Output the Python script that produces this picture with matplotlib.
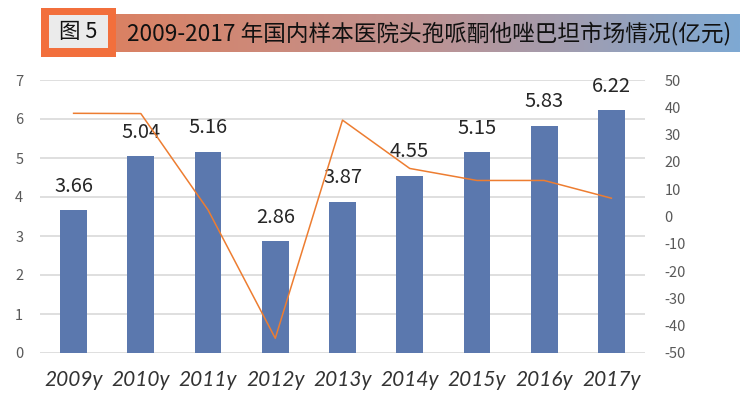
import numpy as np
import matplotlib.pyplot as plt
from matplotlib.colors import LinearSegmentedColormap
from matplotlib.patches import Rectangle

plt.rcParams['font.family'] = ['Noto Sans CJK SC', 'DejaVu Sans']
plt.rcParams['axes.unicode_minus'] = False

years = ['2009y', '2010y', '2011y', '2012y', '2013y', '2014y', '2015y', '2016y', '2017y']
sales = [3.66, 5.04, 5.16, 2.86, 3.87, 4.55, 5.15, 5.83, 6.22]
growth = [37.8, 37.7, 2.4, -44.6, 35.3, 17.6, 13.2, 13.2, 6.7]
title = '2009-2017 年国内样本医院头孢哌酮他唑巴坦市场情况(亿元)'

fig = plt.figure(figsize=(7.4, 3.99), dpi=100)

# header: gradient band + figure number box
gax = fig.add_axes([116 / 740, 1 - 52 / 399, 1 - 116 / 740, 38 / 399])
cmap = LinearSegmentedColormap.from_list('hdr', ['#DA8163', '#BE9393', '#7EA9D3'])
gax.imshow(np.linspace(0, 1, 256).reshape(1, -1), cmap=cmap, aspect='auto', extent=[0, 1, 0, 1])
gax.set_axis_off()
gax.text(0.018, 0.48, title, fontsize=16.3, va='center', ha='left', color='#111111')

fig.patches.append(Rectangle((41 / 740, 1 - 57 / 399), 75 / 740, 49 / 399,
                             transform=fig.transFigure, facecolor='#F26F3C', edgecolor='none'))
fig.patches.append(Rectangle((49 / 740, 1 - 48 / 399), 59 / 740, 33 / 399,
                             transform=fig.transFigure, facecolor='#EBEBEB', edgecolor='none'))
fig.text(78.5 / 740, 1 - 32 / 399, '图 5', fontsize=15.5, ha='center', va='center', color='#111111')

# main chart
ax = fig.add_axes([40 / 740, 1 - 353 / 399, 605 / 740, 273 / 399])
x = np.arange(len(years))
ax.bar(x, sales, width=0.4, color='#5B78AE', zorder=2)
for xi, v in zip(x, sales):
    ax.text(xi, v + 0.35, f'{v:.2f}', ha='center', va='bottom', fontsize=14.5, color='#262626', zorder=4)
ax.set_ylim(0, 7)
ax.set_xlim(-0.5, len(years) - 0.5)
ax.set_yticks(range(0, 8))
ax.yaxis.grid(True, color='#D9D9D9', linewidth=1.2)
ax.set_axisbelow(True)
for s in ax.spines.values():
    s.set_visible(False)
ax.tick_params(axis='y', length=0, labelsize=10.5, labelcolor='#595959', pad=12)
ax.tick_params(axis='x', length=0, labelsize=15, labelcolor='#333333', pad=12)
ax.set_xticks(x)
ax.set_xticklabels(years, fontstyle='italic', family='Lato')

ax2 = ax.twinx()
ax2.plot(x, growth, color='#ED7D31', linewidth=1.1, zorder=3)
ax2.set_ylim(-50, 50)
ax2.set_yticks(range(-50, 51, 10))
for s in ax2.spines.values():
    s.set_visible(False)
ax2.tick_params(axis='y', length=0, labelsize=10.5, labelcolor='#595959', pad=14)

fig.savefig('out.png', dpi=100)
